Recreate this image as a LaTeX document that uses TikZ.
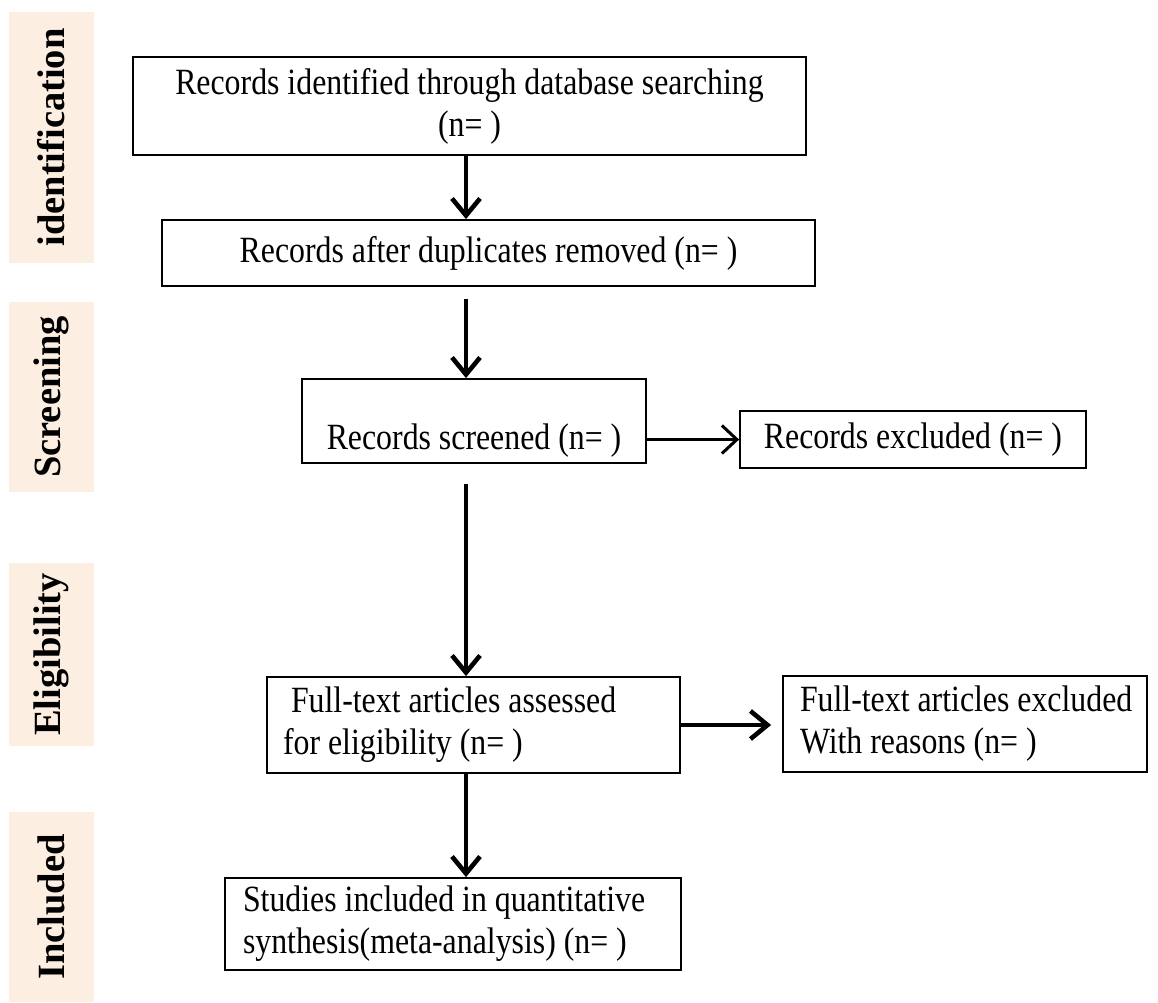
\documentclass[tikz,border=0pt]{standalone}
\usepackage{fontspec}
\setmainfont[FakeStretch=0.86]{Liberation Serif}
\newfontfamily\stagefont{Liberation Serif}
\usetikzlibrary{arrows.meta}
\definecolor{band}{RGB}{253,238,226}
\begin{document}
\begin{tikzpicture}[x=1pt,y=-1pt,
  box/.style={draw=black, line width=1.8pt, inner sep=0pt, align=center,
    font=\fontsize{37}{42}\selectfont},
  lbox/.style={box, align=left},
  stage/.style={fill=band, inner sep=0pt, minimum width=85pt},
  stagetext/.style={rotate=90, font=\stagefont\fontsize{38.5}{40}\selectfont\bfseries},
  bigarrow/.style={line width=3.4pt, -{Straight Barb[length=17pt,width=28pt,line width=4.6pt]}},
  thinarrow/.style={line width=2.4pt, -{Straight Barb[length=15pt,width=28pt,line width=3pt]}}
]
\useasboundingbox (0,0) rectangle (1158,1002);
% stage bands
\node[stage, minimum height=251pt] (s1) at (51.5,137.5) {};
\node[stage, minimum height=190pt] (s2) at (51.5,397) {};
\node[stage, minimum height=183pt] (s3) at (51.5,654.5) {};
\node[stage, minimum height=190pt] (s4) at (51.5,907) {};
\node[stagetext] (t1) at (s1.center) {identification};
\node[stagetext] (t2) at (s2.center) {Screening};
\node[stagetext] (t3) at (s3.center) {Eligibility};
\node[stagetext] (t4) at (s4.center) {Included};
% boxes
\node[box, minimum width=673pt, minimum height=98pt] (b1) at (469.5,106)
  {Records identified through database searching\\(n= )};
\node[box, minimum width=653pt, minimum height=66pt] (b2) at (488.5,253)
  {Records after duplicates removed (n= )};
\node[box, minimum width=344pt, minimum height=84pt, text height=60pt, text depth=4pt] (b3) at (474,421)
  {Records screened (n= )};
\node[box, minimum width=346pt, minimum height=57pt] (b4) at (913,439.5)
  {Records excluded (n= )};
\node[lbox, text width=381pt, minimum height=96pt, inner xsep=16pt] (b5) at (473.5,725)
  {\spaceskip=0pt\xspaceskip=0pt\relax
   \mbox{\hspace*{8pt}Full-text articles assessed}\\\mbox{for eligibility (n= )}};
\node[lbox, text width=330pt, minimum height=96pt, inner xsep=17pt] (b6) at (965,724)
  {\spaceskip=0pt\xspaceskip=0pt\relax
   \mbox{Full-text articles excluded}\\\mbox{With reasons (n= )}};
\node[lbox, text width=420pt, minimum height=92pt, inner xsep=18pt] (b7) at (453,924)
  {\spaceskip=0pt\xspaceskip=0pt\relax
   \mbox{Studies included in quantitative}\\\mbox{synthesis(meta-analysis) (n= )}};
% connectors
\coordinate (ax) at (466,0);
\draw[bigarrow] (b1.south -| ax) -- (b2.north -| ax);
\draw[bigarrow, shorten <=12pt] (b2.south -| ax) -- (b3.north -| ax);
\draw[bigarrow, shorten <=20pt] (b3.south -| ax) -- (b5.north -| ax);
\draw[bigarrow] (b5.south -| ax) -- (b7.north -| ax);
\draw[thinarrow] (b3.east |- b4.west) -- (b4.west);
\draw[bigarrow, shorten >=11pt] (b5.east) -- (b6.west |- b5.east);
\end{tikzpicture}
\end{document}
